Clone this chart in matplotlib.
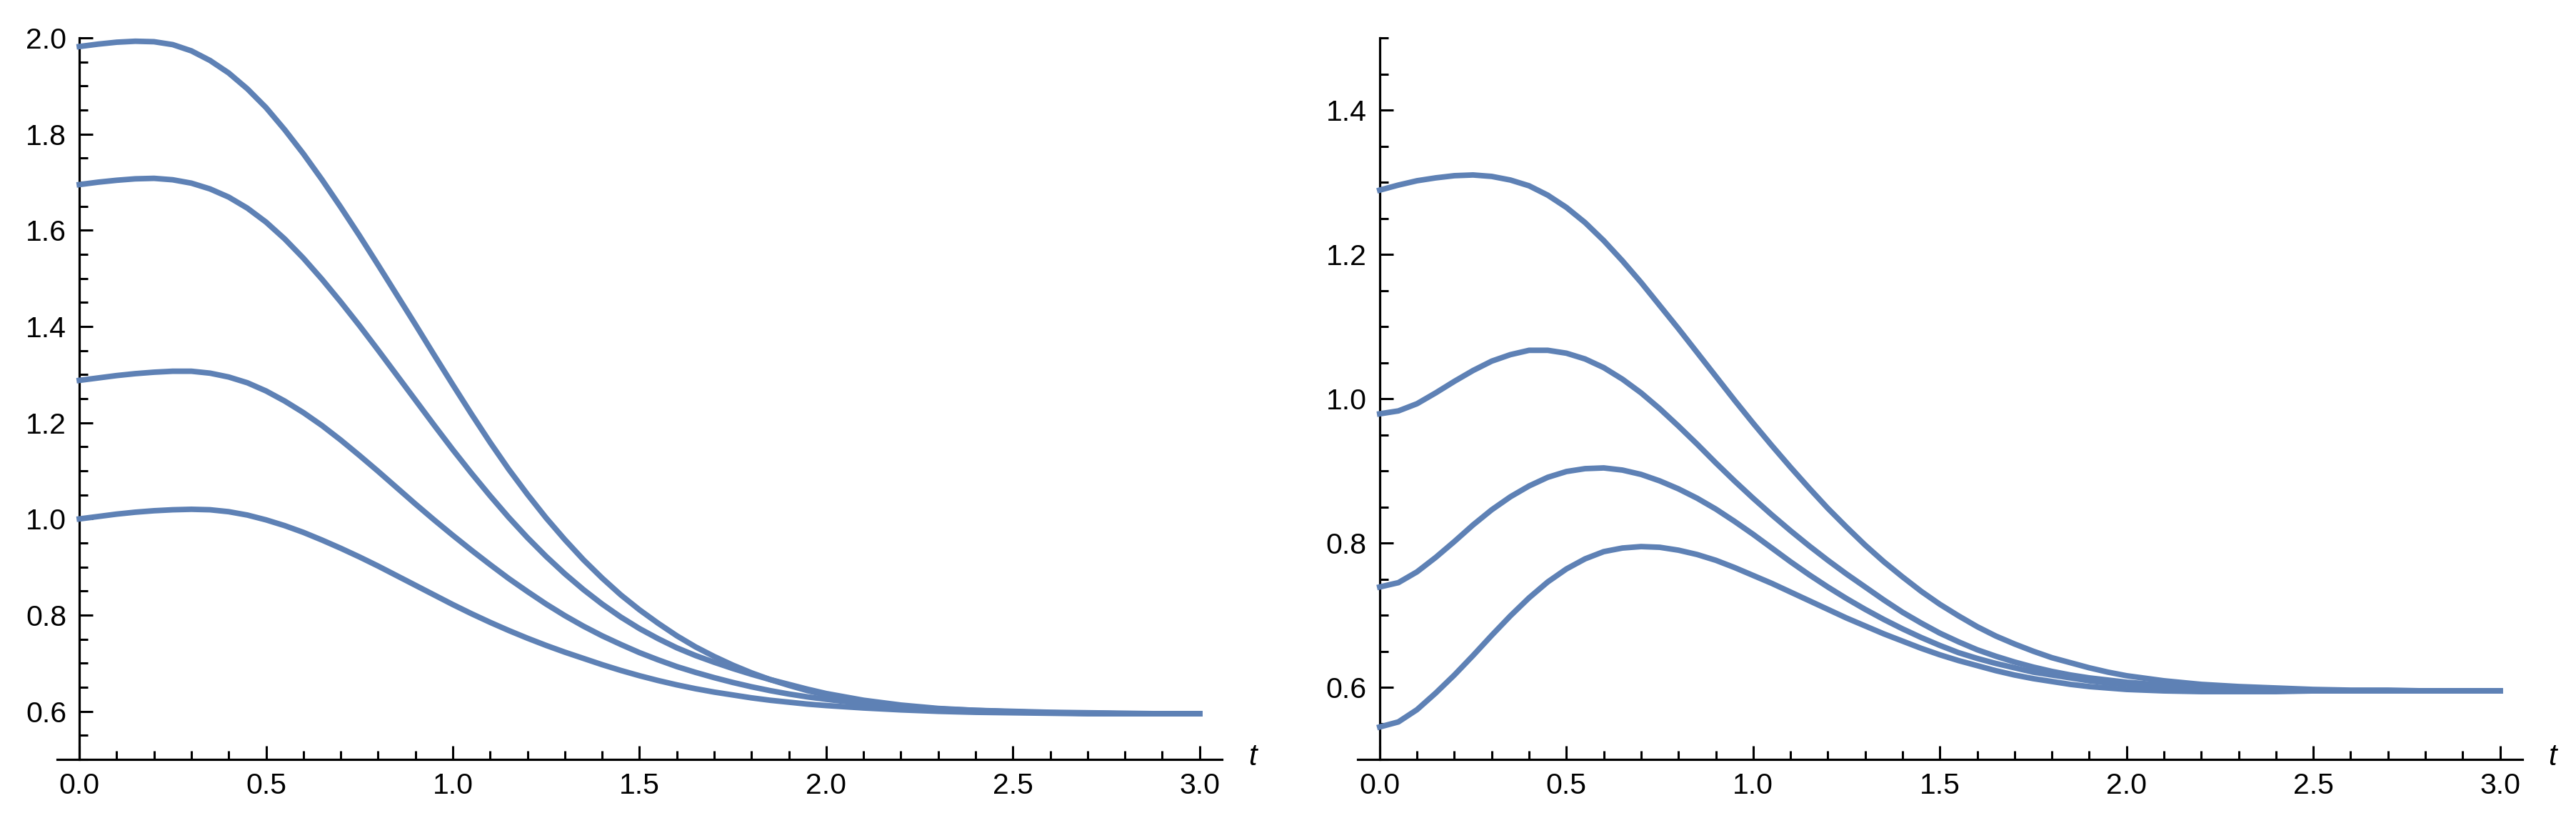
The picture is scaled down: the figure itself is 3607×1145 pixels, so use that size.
import matplotlib
matplotlib.use('Agg')
from matplotlib import pyplot as plt
from matplotlib.ticker import MultipleLocator, FormatStrFormatter

# time grid: 0.05 steps up to t=2, then 0.1 steps where everything is flat
t = [0.0, 0.05, 0.1, 0.15, 0.2, 0.25, 0.3, 0.35, 0.4, 0.45, 0.5,
     0.55, 0.6, 0.65, 0.7, 0.75, 0.8, 0.85, 0.9, 0.95, 1.0,
     1.05, 1.1, 1.15, 1.2, 1.25, 1.3, 1.35, 1.4, 1.45, 1.5,
     1.55, 1.6, 1.65, 1.7, 1.75, 1.8, 1.85, 1.9, 1.95, 2.0,
     2.1, 2.2, 2.3, 2.4, 2.5, 2.6, 2.7, 2.8, 2.9, 3.0]

# left panel, four solutions
left_a = [1.982, 1.987, 1.991, 1.993, 1.992, 1.986, 1.973, 1.953, 1.927, 1.894, 1.855,
          1.809, 1.759, 1.705, 1.648, 1.589, 1.528, 1.466, 1.404, 1.341, 1.279,
          1.218, 1.159, 1.103, 1.051, 1.002, 0.957, 0.915, 0.877, 0.842, 0.811,
          0.783, 0.757, 0.734, 0.714, 0.696, 0.680, 0.666, 0.654, 0.643, 0.634,
          0.620, 0.611, 0.605, 0.601, 0.599, 0.597, 0.596, 0.595, 0.595, 0.595]
left_b = [1.695, 1.700, 1.704, 1.707, 1.708, 1.705, 1.698, 1.686, 1.669, 1.646, 1.617,
          1.582, 1.542, 1.498, 1.451, 1.402, 1.351, 1.299, 1.247, 1.195, 1.144,
          1.095, 1.048, 1.003, 0.961, 0.922, 0.886, 0.853, 0.823, 0.796, 0.772,
          0.751, 0.732, 0.716, 0.702, 0.689, 0.677, 0.666, 0.656, 0.646, 0.637,
          0.623, 0.613, 0.606, 0.602, 0.599, 0.597, 0.596, 0.595, 0.595, 0.595]
left_c = [1.288, 1.293, 1.298, 1.302, 1.305, 1.307, 1.307, 1.303, 1.295, 1.283, 1.266,
          1.245, 1.221, 1.194, 1.164, 1.132, 1.099, 1.065, 1.031, 0.998, 0.966,
          0.935, 0.905, 0.876, 0.849, 0.823, 0.799, 0.777, 0.757, 0.739, 0.722,
          0.707, 0.693, 0.681, 0.670, 0.660, 0.651, 0.643, 0.636, 0.630, 0.625,
          0.616, 0.610, 0.605, 0.602, 0.600, 0.598, 0.597, 0.596, 0.595, 0.595]
left_d = [1.000, 1.005, 1.010, 1.014, 1.017, 1.019, 1.020, 1.019, 1.015, 1.008, 0.998,
          0.986, 0.972, 0.956, 0.939, 0.921, 0.902, 0.882, 0.862, 0.842, 0.822,
          0.803, 0.785, 0.768, 0.752, 0.737, 0.723, 0.710, 0.697, 0.685, 0.674,
          0.664, 0.655, 0.647, 0.640, 0.634, 0.628, 0.623, 0.619, 0.615, 0.612,
          0.607, 0.603, 0.600, 0.598, 0.597, 0.596, 0.595, 0.595, 0.595, 0.595]

# right panel
right_a = [1.289, 1.296, 1.302, 1.306, 1.309, 1.310, 1.308, 1.303, 1.295, 1.282, 1.265,
           1.244, 1.219, 1.191, 1.161, 1.129, 1.097, 1.064, 1.031, 0.998, 0.966,
           0.935, 0.905, 0.876, 0.848, 0.822, 0.797, 0.774, 0.753, 0.733, 0.715,
           0.699, 0.684, 0.671, 0.660, 0.650, 0.641, 0.634, 0.627, 0.621, 0.616,
           0.609, 0.604, 0.601, 0.599, 0.597, 0.596, 0.596, 0.595, 0.595, 0.595]
right_b = [0.979, 0.983, 0.993, 1.008, 1.024, 1.039, 1.052, 1.061, 1.067, 1.067, 1.063,
           1.055, 1.043, 1.027, 1.008, 0.986, 0.962, 0.937, 0.911, 0.886, 0.862,
           0.839, 0.817, 0.796, 0.776, 0.757, 0.739, 0.721, 0.704, 0.689, 0.675,
           0.663, 0.652, 0.643, 0.635, 0.628, 0.622, 0.617, 0.613, 0.610, 0.607,
           0.603, 0.600, 0.598, 0.597, 0.596, 0.595, 0.595, 0.595, 0.595, 0.595]
right_c = [0.739, 0.745, 0.760, 0.780, 0.802, 0.825, 0.846, 0.864, 0.879, 0.891, 0.899,
           0.903, 0.904, 0.901, 0.895, 0.886, 0.875, 0.862, 0.847, 0.830, 0.812,
           0.793, 0.774, 0.756, 0.739, 0.723, 0.708, 0.694, 0.681, 0.669, 0.658,
           0.648, 0.640, 0.633, 0.627, 0.621, 0.617, 0.613, 0.609, 0.606, 0.604,
           0.600, 0.598, 0.596, 0.595, 0.595, 0.595, 0.595, 0.595, 0.595, 0.595]
right_d = [0.545, 0.552, 0.569, 0.592, 0.617, 0.644, 0.672, 0.699, 0.724, 0.746, 0.764,
           0.778, 0.788, 0.793, 0.795, 0.794, 0.790, 0.784, 0.776, 0.766, 0.755,
           0.744, 0.732, 0.720, 0.708, 0.696, 0.685, 0.674, 0.664, 0.654, 0.645,
           0.637, 0.630, 0.623, 0.617, 0.612, 0.608, 0.604, 0.601, 0.599, 0.597,
           0.595, 0.594, 0.594, 0.594, 0.595, 0.595, 0.595, 0.595, 0.595, 0.595]

line_color = '#5E81B5'
plt.rcParams['font.family'] = ['Liberation Sans', 'DejaVu Sans']

fig = plt.figure(figsize=(36.07, 11.45), dpi=100)
ax1 = fig.add_axes([0.0221, 0.0716, 0.4523, 0.8821])
ax2 = fig.add_axes([0.5269, 0.0716, 0.4523, 0.8821])

panels = [(ax1, [left_a, left_b, left_c, left_d], (0.5, 2.0)),
          (ax2, [right_a, right_b, right_c, right_d], (0.5, 1.5))]

for ax, curves, ylim in panels:
    for y in curves:
        ax.plot(t, y, color=line_color, lw=5.6, zorder=3, solid_joinstyle='round')
    ax.set_xlim(-0.06, 3.06)
    ax.set_ylim(*ylim)

    # mathematica style axes: y axis sits at t=0
    ax.spines['left'].set_position(('data', 0))
    ax.spines['top'].set_visible(False)
    ax.spines['right'].set_visible(False)
    for s in ['left', 'bottom']:
        ax.spines[s].set_linewidth(2.3)
        ax.spines[s].set_zorder(2.5)

    ax.xaxis.set_major_locator(MultipleLocator(0.5))
    ax.xaxis.set_minor_locator(MultipleLocator(0.1))
    ax.yaxis.set_major_locator(MultipleLocator(0.2))
    ax.yaxis.set_minor_locator(MultipleLocator(0.05))
    ax.xaxis.set_major_formatter(FormatStrFormatter('%.1f'))
    ax.yaxis.set_major_formatter(FormatStrFormatter('%.1f'))

    ax.tick_params(which='both', direction='in', width=2.2, labelsize=29.5, pad=13)
    ax.tick_params(which='major', length=14)
    ax.tick_params(which='minor', length=8.5)

    # no label at the bottom, it sits on the t axis
    yt = [v for v in ax.get_yticks() if v > ylim[0] + 0.01 and v <= ylim[1] + 1e-9]
    ax.set_yticks(yt)

    ax.text(3.13, ylim[0] + 0.003 * (ylim[1] - ylim[0]), 't', fontsize=30, style='italic',
            ha='left', va='center', clip_on=False)

fig.savefig('out.png', dpi=100)
